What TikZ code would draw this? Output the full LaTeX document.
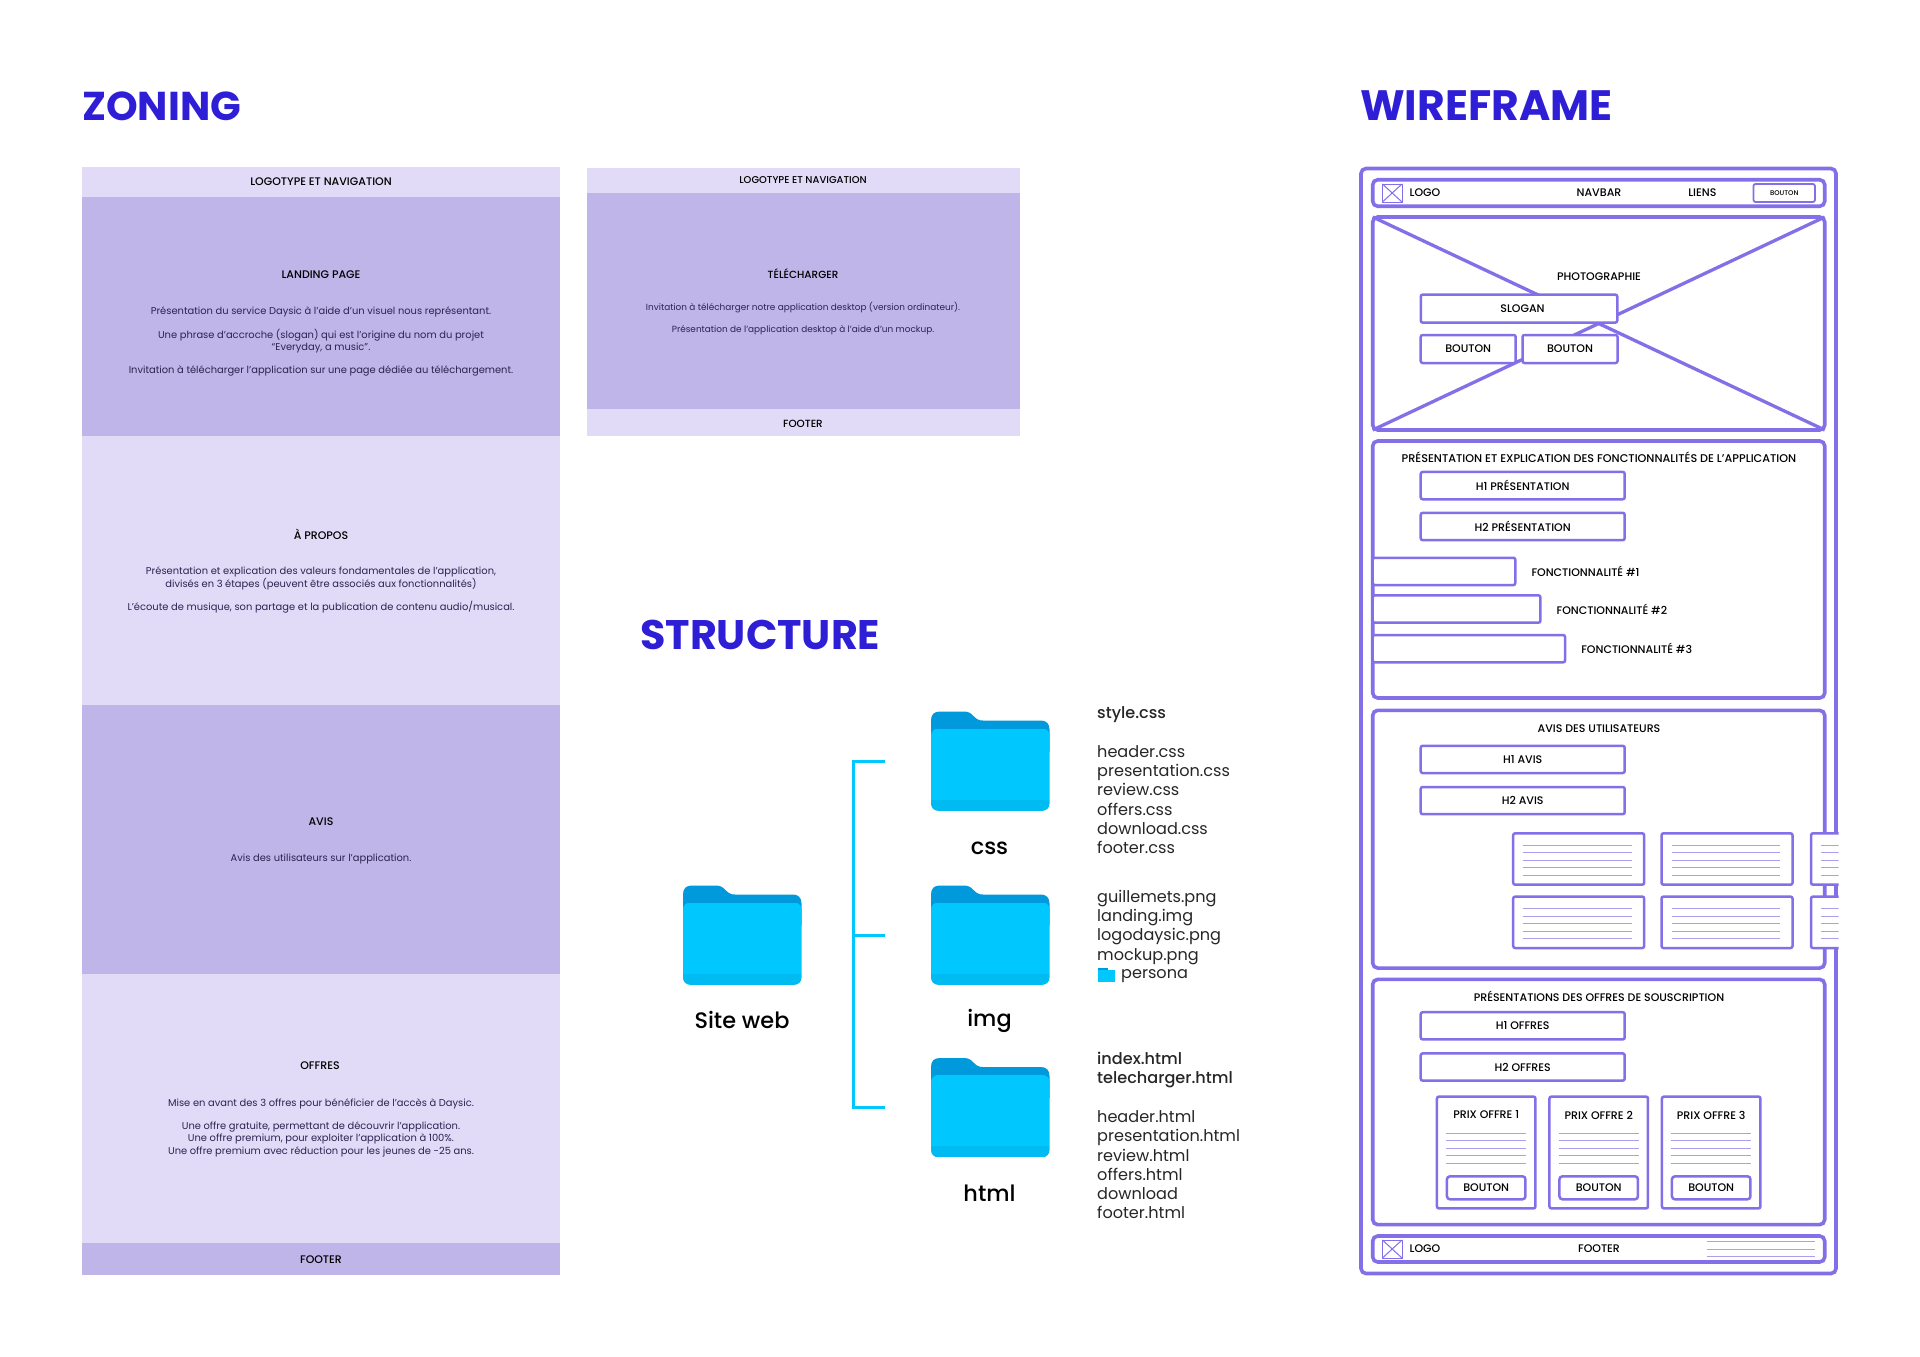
\documentclass[tikz,border=0pt]{standalone}
\usepackage{fontspec}
\setmainfont{Poppins}
\newfontfamily\medfont{Poppins Medium}
\usetikzlibrary{positioning, calc}

\definecolor{titleblue}{HTML}{2E1FD6}
\definecolor{zonelight}{HTML}{E1DBF7}
\definecolor{zonedark}{HTML}{BFB5E8}
\definecolor{wireline}{HTML}{8370E8}
\definecolor{wirethin}{HTML}{AC9FF0}
\definecolor{foldercyan}{HTML}{00C8FF}
\definecolor{folderback}{HTML}{0099DB}
\definecolor{folderband}{HTML}{00BBF2}
\definecolor{bodyink}{HTML}{2A2350}

\tikzset{
    foldericon/.pic={
        \fill[folderback] (0,40) -- (0,9) .. controls (0,3) and (3,0) .. (9,0) -- (33,0) .. controls (38,0) and (40,2) .. (43,5) .. controls (46,8) and (48,9) .. (52,9) -- (110,9) .. controls (115,9) and (118.5,12) .. (118.5,18) -- (118.5,40) -- cycle;
        \begin{scope}
            \clip[rounded corners=7pt] (0,17) rectangle (118.5,99.3);
            \fill[foldercyan] (0,17) rectangle (118.5,88);
            \fill[folderband] (0,88) rectangle (118.5,99.3);
        \end{scope}
        \coordinate (-body) at (59.25,49.65);
    }
}

\begin{document}
\begin{tikzpicture}[
    x=1pt, y=-1pt,
    bigtitle/.style={anchor=west, inner sep=0pt, text=titleblue, font=\fontsize{#1}{44}\selectfont\bfseries},
    zone/.style={rectangle, inner sep=0pt, outer sep=0pt, minimum width=#1},
    zonehead/.style={inner sep=0pt, text=black, font=\fontsize{11}{12}\medfont},
    zonetext/.style={inner sep=0pt, align=center, text=bodyink, font=\fontsize{9.9}{12.2}\selectfont},
    foldername/.style={inner sep=0pt, text=black, font=\fontsize{22.4}{24}\medfont},
    filelist/.style={anchor=north west, inner sep=0pt, align=left, text=black!85, font=\fontsize{16.1}{19.25}\selectfont},
    bracket/.style={draw=foldercyan, line width=3pt},
    frame/.style={rectangle, draw=wireline, line width=3.6pt, rounded corners=5pt, outer sep=0pt, inner sep=0pt, fill=white},
    wirebox/.style={rectangle, draw=wireline, line width=2.5pt, rounded corners=2pt, outer sep=0pt, inner sep=0pt, fill=white, text=black, font=\fontsize{11}{12}\medfont},
    wirelabel/.style={inner sep=0pt, text=black, font=\fontsize{11}{12}\medfont},
    logoicon/.style={rectangle, draw=wireline, line width=1pt, outer sep=0pt, minimum width=19.6pt, minimum height=18pt},
    wirecross/.style={draw=wireline, line width=3.3pt},
    logocross/.style={draw=wireline, line width=1pt},
    textline/.style={draw=wirethin, line width=1pt}
]
    \useasboundingbox (0,0) rectangle (1920,1357);

    % Titles
    \node[bigtitle=40.3] (zoningtitle) at (82,106) {ZONING};
    \node[bigtitle=42.5] (wiretitle) at (1360,106) {WIREFRAME};
    \node[bigtitle=41.3] (structtitle) at (640,635) {STRUCTURE};

    % Zoning: long page
    \node[zone=478pt, fill=zonelight, minimum height=30pt] (navlong) at (321,182) {};
    \node[zone=478pt, fill=zonedark, minimum height=239pt, below=0pt of navlong] (landing) {};
    \node[zone=478pt, fill=zonelight, minimum height=269pt, below=0pt of landing] (apropos) {};
    \node[zone=478pt, fill=zonedark, minimum height=268.5pt, below=0pt of apropos] (avis) {};
    \node[zone=478pt, fill=zonelight, minimum height=269.5pt, below=0pt of avis] (offres) {};
    \node[zone=478pt, fill=zonedark, minimum height=32pt, below=0pt of offres] (footlong) {};

    \node[zonehead] (navlonglabel) at (321,181.5) {LOGOTYPE ET NAVIGATION};
    \node[zonehead] (landinghead) at (321,275) {LANDING PAGE};
    \node[zonetext] (landingtext) at (321,341.6) {Présentation du service Daysic à l’aide d’un visuel nous représentant.\\[11.4pt]Une phrase d’accroche (slogan) qui est l’origine du nom du projet\\“Everyday, a music”.\\[11.4pt]Invitation à télécharger l’application sur une page dédiée au téléchargement.};
    \node[zonehead] (aproposhead) at (321,534.5) {À PROPOS};
    \node[zonetext] (aproposEtext) at (321,590.3) {Présentation et explication des valeurs fondamentales de l’application,\\divisés en 3 étapes (peuvent être associés aux fonctionnalités)\\[11.4pt]L’écoute de musique, son partage et la publication de contenu audio/musical.};
    \node[zonehead] (avishead) at (321,821.6) {AVIS};
    \node[zonetext] (avistext) at (321,859) {Avis des utilisateurs sur l’application.};
    \node[zonehead] (offreshead) at (320,1066) {OFFRES};
    \node[zonetext] (offrestext) at (321,1127.5) {Mise en avant des 3 offres pour bénéficier de l’accès à Daysic.\\[11.4pt]Une offre gratuite, permettant de découvrir l’application.\\Une offre premium, pour exploiter l’application à 100\%.\\Une offre premium avec réduction pour les jeunes de -25 ans.};
    \node[zonehead] (footlonglabel) at (321,1259.4) {FOOTER};

    % Zoning: download page
    \node[zone=433pt, fill=zonelight, minimum height=25.5pt] (navshort) at (803.5,180.7) {};
    \node[zone=433pt, fill=zonedark, minimum height=215.5pt, below=0pt of navshort] (download) {};
    \node[zone=433pt, fill=zonelight, minimum height=27pt, below=0pt of download] (footshort) {};

    \node[zonehead, font=\fontsize{9.9}{12}\medfont] (navshortlabel) at (803,180.2) {LOGOTYPE ET NAVIGATION};
    \node[zonehead, font=\fontsize{10.4}{12}\medfont] (downloadhead) at (803,273.8) {TÉLÉCHARGER};
    \node[zonetext, font=\fontsize{8.9}{11}\selectfont] (downloadtext) at (803,318.4) {Invitation à télécharger notre application desktop (version ordinateur).\\[10.4pt]Présentation de l’application desktop à l’aide d’un mockup.};
    \node[zonehead, font=\fontsize{10.4}{12}\medfont] (footshortlabel) at (803,423.4) {FOOTER};

    % Structure: folders
    \path (683,885.5) pic (sitefolder) {foldericon};
    \path (931,711.5) pic (cssfolder) {foldericon};
    \path (931,885.5) pic (imgfolder) {foldericon};
    \path (931,1058) pic (htmlfolder) {foldericon};

    \node[foldername] (sitename) at (742,1019.5) {Site web};
    \node[foldername] (cssname) at (989.5,848) {css};
    \node[foldername] (imgname) at (989.5,1021) {img};
    \node[foldername] (htmlname) at (989.5,1193) {html};

    % Structure: bracket
    \coordinate (cssstub) at ($(cssfolder-body)+(-105,0)$);
    \coordinate (imgstub) at ($(imgfolder-body)+(-105,0)$);
    \coordinate (htmlstub) at ($(htmlfolder-body)+(-105,0)$);
    \coordinate (cssspine) at ($(cssfolder-body)+(-137,0)$);
    \coordinate (imgspine) at ($(imgfolder-body)+(-137,0)$);
    \coordinate (htmlspine) at ($(htmlfolder-body)+(-137,0)$);
    \draw[bracket] (cssstub) -- (cssspine) -- (htmlspine) -- (htmlstub);
    \draw[bracket] (imgspine) -- (imgstub);

    % Structure: file lists
    \node[filelist, font=\fontsize{16.1}{19.25}\medfont] (cssmain) at (1097,706.8) {style.css};
    \node[filelist] (csslist) at (1097,745.3) {header.css\\presentation.css\\review.css\\offers.css\\download.css\\footer.css};
    \node[filelist] (imglist) at (1097,890) {guillemets.png\\landing.img\\logodaysic.png\\mockup.png};
    \node[filelist] (personalist) at (1121,969.5) {persona};
    \fill[folderback] (1097.5,967.5) rectangle (1108,972);
    \fill[foldercyan] (1097.5,970) rectangle (1115,981.8);
    \node[filelist, font=\fontsize{16.1}{19.25}\medfont] (htmlmain) at (1097,1052) {index.html\\telecharger.html};
    \node[filelist] (htmllist) at (1097,1110.5) {header.html\\presentation.html\\review.html\\offers.html\\download\\footer.html};

    % Wireframe: frame and sections
    \node[frame, minimum width=475pt, minimum height=1105pt] (outer) at (1598.5,721) {};
    \node[frame, minimum width=452pt, minimum height=26.5pt] (headbar) at (1598.7,193) {};
    \node[frame, minimum width=452pt, minimum height=213pt] (photo) at (1598.7,323.5) {};
    \draw[wirecross] (photo.north west) -- (photo.south east);
    \draw[wirecross] (photo.north east) -- (photo.south west);
    \node[frame, minimum width=452pt, minimum height=257pt] (fonctions) at (1598.7,569.5) {};
    \node[frame, minimum width=452pt, minimum height=257.7pt] (avisblock) at (1598.7,839.2) {};
    \node[frame, minimum width=452pt, minimum height=245.3pt] (offresblock) at (1598.7,1102) {};
    \node[frame, minimum width=452pt, minimum height=26pt] (footbar) at (1598.7,1249) {};

    % Header
    \node[logoicon] (headlogo) at (1392.2,193) {};
    \draw[logocross] (headlogo.north west) -- (headlogo.south east);
    \draw[logocross] (headlogo.north east) -- (headlogo.south west);
    \node[wirelabel, anchor=west] (headlogotext) at (1409.5,193) {LOGO};
    \node[wirelabel] (navbartext) at (1599,193) {NAVBAR};
    \node[wirelabel] (lienstext) at (1702.4,193) {LIENS};
    \node[wirebox, line width=1.8pt, minimum width=61.4pt, minimum height=18pt, font=\fontsize{6.8}{8}\medfont] (headbtn) at (1784.2,193) {BOUTON};

    % Photo block
    \node[wirelabel] (phototext) at (1599,277) {PHOTOGRAPHIE};
    \node[wirebox, minimum width=196.5pt, minimum height=28pt] (slogan) at (1519,308.6) {\hspace*{7pt}SLOGAN};
    \node[wirebox, minimum width=95pt, minimum height=28pt] (photobtnA) at (1468.2,349) {BOUTON};
    \node[wirebox, minimum width=95pt, minimum height=28pt] (photobtnB) at (1570,349) {BOUTON};

    % Fonctionnalites block
    \node[wirelabel, font=\fontsize{11.2}{12}\medfont] (fonctionstext) at (1599,457.5) {PRÉSENTATION ET EXPLICATION DES FONCTIONNALITÉS DE L’APPLICATION};
    \node[wirebox, minimum width=204pt, minimum height=27.3pt] (hpresA) at (1522.7,485.6) {H1 PRÉSENTATION};
    \node[wirebox, minimum width=204pt, minimum height=27.3pt, below=13.6pt of hpresA] (hpresB) {H2 PRÉSENTATION};
    \node[wirebox, anchor=west, minimum width=142.6pt, minimum height=27.3pt] (fbarA) at (1372.7,571.4) {};
    \node[wirebox, anchor=west, minimum width=167.7pt, minimum height=27.3pt] (fbarB) at (1372.7,609) {};
    \node[wirebox, anchor=west, minimum width=192.4pt, minimum height=27.3pt] (fbarC) at (1372.7,648.7) {};
    \node[wirelabel, right=16pt of fbarA] (ftextA) {FONCTIONNALITÉ \#1};
    \node[wirelabel, right=16pt of fbarB] (ftextB) {FONCTIONNALITÉ \#2};
    \node[wirelabel, right=16pt of fbarC] (ftextC) {FONCTIONNALITÉ \#3};

    % Avis block
    \node[wirelabel] (avisblocktext) at (1599,728.7) {AVIS DES UTILISATEURS};
    \node[wirebox, minimum width=204pt, minimum height=27.2pt] (havisA) at (1522.7,759.4) {H1 AVIS};
    \node[wirebox, minimum width=204pt, minimum height=27.2pt, below=14pt of havisA] (havisB) {H2 AVIS};
    \foreach \cardx/\cardname in {1578.7/cardA, 1727/cardB, 1876.5/cardC} {
        \foreach \cardy/\rowname in {859/up, 922.3/down} {
            \begin{scope}
                \clip (1500,820) rectangle (1838.5,960);
                \node[wirebox, minimum width=131pt, minimum height=51.4pt] (\cardname\rowname) at (\cardx,\cardy) {};
                \foreach \liney in {-13.4,-6.1,1.5,8.8,16.5} {
                    \draw[textline] ($(\cardname\rowname)+(-55.4,\liney)$) -- ($(\cardname\rowname)+(53.4,\liney)$);
                }
            \end{scope}
        }
    }

    % Offres block
    \node[wirelabel] (offresblocktext) at (1599,996) {PRÉSENTATIONS DES OFFRES DE SOUSCRIPTION};
    \node[wirebox, minimum width=204pt, minimum height=27.2pt] (hoffresA) at (1522.7,1025.8) {H1 OFFRES};
    \node[wirebox, minimum width=204pt, minimum height=27.2pt, below=14pt of hoffresA] (hoffresB) {H2 OFFRES};
    \foreach \pricex/\pricename/\pricelabel in {1486.2/priceA/PRIX OFFRE 1, 1598.7/priceB/PRIX OFFRE 2, 1711.2/priceC/PRIX OFFRE 3} {
        \node[wirebox, minimum width=98.5pt, minimum height=111.8pt] (\pricename) at (\pricex,1152.5) {};
        \node[wirelabel] (\pricename text) at (\pricex,1115) {\pricelabel};
        \foreach \liney in {-19.5,-11.9,-4.5,3.1,10.7} {
            \draw[textline] ($(\pricename)+(-40,\liney)$) -- ($(\pricename)+(40,\liney)$);
        }
        \node[wirebox, minimum width=78.5pt, minimum height=23pt, rounded corners=3pt] (\pricename btn) at (\pricex,1187.8) {BOUTON};
    }

    % Footer
    \node[logoicon] (footlogo) at (1392.2,1249) {};
    \draw[logocross] (footlogo.north west) -- (footlogo.south east);
    \draw[logocross] (footlogo.north east) -- (footlogo.south west);
    \node[wirelabel, anchor=west] (footlogotext) at (1409.5,1249) {LOGO};
    \node[wirelabel] (footertext) at (1599,1249) {FOOTER};
    \foreach \liney in {1241.6,1249,1256.6} {
        \draw[textline] (1707,\liney) -- (1815,\liney);
    }

\end{tikzpicture}
\end{document}
